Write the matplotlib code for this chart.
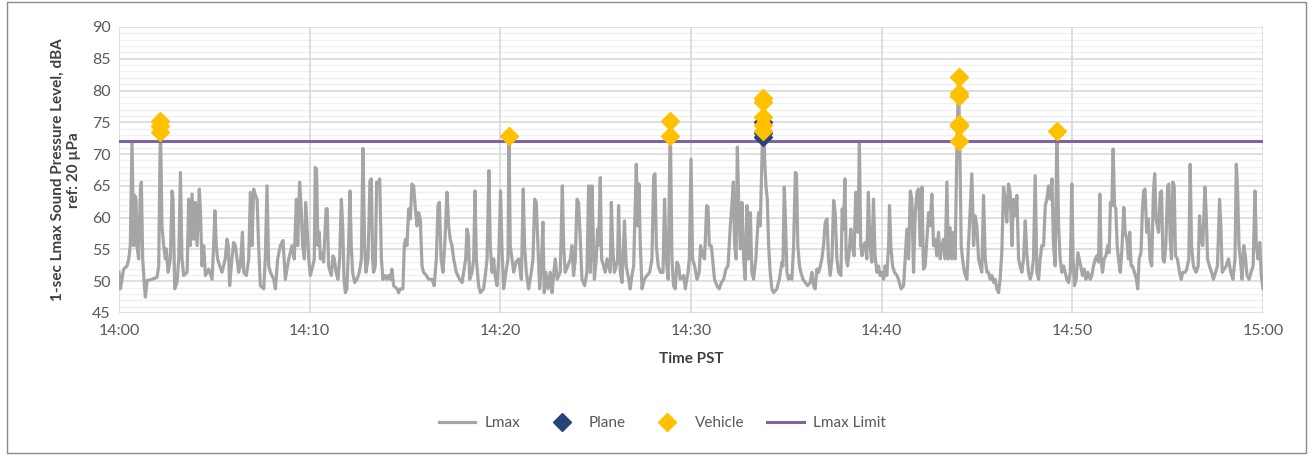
import matplotlib
matplotlib.use('Agg')
import matplotlib.pyplot as plt
from matplotlib.patches import Rectangle
from matplotlib.ticker import MultipleLocator

plt.rcParams['font.family'] = ['Lato', 'DejaVu Sans']

# minutes after 14:00 and 1-sec Lmax (dBA)
lmax_min = [
    0.00, 0.07, 0.24, 0.42, 0.51, 0.59, 0.68, 0.77, 0.82, 0.89, 0.94, 1.03, 1.12, 1.17, 1.24, 1.33, 1.38, 1.47, 1.73, 1.99,
    2.08, 2.17, 2.25, 2.34, 2.43, 2.48, 2.57, 2.69, 2.78, 2.83, 2.92, 3.04, 3.13, 3.22, 3.30, 3.39, 3.57, 3.65, 3.74, 3.83,
    3.92, 4.00, 4.09, 4.21, 4.27, 4.35, 4.44, 4.53, 4.70, 4.88,
    4.96, 5.03, 5.10, 5.17, 5.28, 5.40, 5.57, 5.66, 5.73, 5.80, 5.92, 6.01, 6.10, 6.19, 6.27, 6.36, 6.47, 6.54, 6.68, 6.80,
    6.89, 6.97, 7.06, 7.15, 7.24, 7.32, 7.41, 7.59, 7.67, 7.76, 7.85, 7.94, 8.11, 8.20, 8.32, 8.46, 8.60, 8.72, 8.90, 9.07,
    9.19, 9.30, 9.37, 9.47, 9.54, 9.63, 9.72, 9.79,
    9.95, 10.03, 10.16, 10.24, 10.29, 10.36, 10.43, 10.50, 10.56, 10.64, 10.73, 10.86, 10.92, 10.99, 11.13, 11.22, 11.29,
    11.38, 11.48, 11.57, 11.66, 11.73, 11.80, 11.87, 11.95, 12.04, 12.11, 12.18, 12.25, 12.36, 12.48, 12.60, 12.71, 12.79,
    12.88, 12.95, 13.06, 13.16, 13.23, 13.30, 13.35, 13.44, 13.51, 13.58, 13.67, 13.76, 13.84, 13.97, 14.05, 14.14, 14.23,
    14.31, 14.40, 14.58, 14.66,
    14.75, 14.89, 14.96, 15.03, 15.10, 15.19, 15.28, 15.36, 15.45, 15.54, 15.63, 15.71, 15.80, 15.89, 15.97, 16.12, 16.24,
    16.41, 16.53, 16.64, 16.73, 16.80, 16.89, 16.99, 17.08, 17.20, 17.29, 17.37, 17.46, 17.55, 17.69, 17.86, 17.99, 18.07,
    18.18, 18.25, 18.32, 18.39, 18.51, 18.60, 18.67, 18.74, 18.86, 18.95, 19.12, 19.21, 19.30, 19.40, 19.47, 19.56, 19.65,
    19.70, 19.82, 19.91, 20.01, 20.08, 20.17, 20.29, 20.40, 20.45, 20.52, 20.61, 20.70, 20.82, 20.96, 21.10, 21.20, 21.27,
    21.36, 21.48, 21.62, 21.71, 21.80, 21.88, 21.97, 22.06, 22.15, 22.23, 22.30, 22.39, 22.50, 22.62, 22.71, 22.79, 22.88,
    22.98, 23.14, 23.25, 23.32, 23.40, 23.54, 23.67, 23.75, 23.84, 23.93, 24.02, 24.10, 24.19, 24.28, 24.42, 24.54,
    24.63, 24.72, 24.80, 24.86, 24.93, 25.03, 25.10, 25.15, 25.24, 25.31, 25.41, 25.50, 25.59, 25.68, 25.76, 25.82, 25.89,
    25.98, 26.08, 26.15, 26.20, 26.29, 26.38, 26.46, 26.51, 26.60, 26.73, 26.81, 26.90, 26.99, 27.08, 27.13, 27.20, 27.27,
    27.34, 27.43, 27.55, 27.69, 27.83, 27.95, 28.04, 28.11, 28.18, 28.28, 28.39, 28.53, 28.61, 28.70, 28.80, 28.91, 29.00,
    29.08, 29.17, 29.26, 29.35, 29.43,
    29.61, 29.70, 29.84, 29.91, 30.00, 30.08, 30.19, 30.31, 30.43, 30.50, 30.61, 30.71, 30.82, 30.89, 30.96, 31.06, 31.13,
    31.23, 31.36, 31.48, 31.59, 31.71, 31.83, 31.94, 32.06, 32.15, 32.22, 32.29, 32.36, 32.43, 32.50, 32.58, 32.67, 32.76,
    32.84, 32.93, 33.02, 33.11, 33.19, 33.28, 33.40, 33.54, 33.63, 33.72, 33.79, 33.86, 33.93, 34.00, 34.07, 34.15, 34.24,
    34.33, 34.50, 34.63,
    34.77, 34.82, 34.89, 34.96, 35.03, 35.11, 35.20, 35.29, 35.38, 35.47, 35.53, 35.60, 35.69, 35.76, 35.87, 35.99, 36.11,
    36.25, 36.34, 36.43, 36.51, 36.60, 36.69, 36.78, 36.86, 36.95, 37.04, 37.13, 37.21, 37.30, 37.39, 37.48, 37.56, 37.65,
    37.74, 37.86, 37.93, 38.00, 38.07, 38.14, 38.21, 38.29, 38.38, 38.45, 38.55, 38.64, 38.69, 38.76, 38.83, 38.90, 38.97,
    39.04, 39.13, 39.22, 39.30, 39.39, 39.48, 39.57, 39.65,
    39.75, 39.83, 39.92, 40.01, 40.10, 40.18, 40.27, 40.36, 40.41, 40.48, 40.57, 40.67, 40.80, 40.88, 41.02, 41.15, 41.23,
    41.32, 41.41, 41.50, 41.58, 41.67, 41.76, 41.85, 41.93, 42.02, 42.11, 42.19, 42.28, 42.37, 42.46, 42.54, 42.63, 42.72,
    42.81, 42.89, 42.98, 43.07, 43.16, 43.24, 43.33, 43.42, 43.50, 43.59, 43.68, 43.77, 43.85, 43.94, 44.03, 44.10, 44.17,
    44.24, 44.34, 44.47, 44.55,
    44.73, 44.82, 44.90, 44.99, 45.08, 45.17, 45.25, 45.34, 45.43, 45.52, 45.60, 45.69, 45.78, 45.87, 45.95, 46.04, 46.13,
    46.21, 46.30, 46.39, 46.48, 46.56, 46.65, 46.74, 46.83, 46.91, 47.00, 47.09, 47.18, 47.26, 47.35, 47.44, 47.53, 47.61,
    47.70, 47.79, 47.88, 47.96, 48.05, 48.14, 48.23, 48.31, 48.40, 48.49, 48.58, 48.66, 48.75, 48.84, 48.93, 49.01, 49.10,
    49.19, 49.28, 49.36,
    49.45, 49.54, 49.62, 49.71, 49.80, 49.89, 49.97, 50.04, 50.11, 50.20, 50.29, 50.36, 50.44, 50.53, 50.62, 50.71, 50.81,
    50.94, 51.02, 51.11, 51.20, 51.28, 51.37, 51.44, 51.51, 51.58, 51.67, 51.76, 51.86, 51.93, 52.00, 52.07, 52.14, 52.21,
    52.28, 52.35, 52.42, 52.51, 52.59, 52.70, 52.77, 52.86, 52.94, 53.01, 53.08, 53.15, 53.26, 53.36, 53.43, 53.50, 53.60,
    53.67, 53.74, 53.81, 53.90, 53.99, 54.07, 54.16, 54.25, 54.32, 54.39,
    54.52, 54.61, 54.68, 54.75, 54.82, 54.90, 55.00, 55.06, 55.13, 55.20, 55.27, 55.34, 55.41, 55.51, 55.62, 55.71, 55.79,
    55.92, 56.00, 56.11, 56.18, 56.25, 56.35, 56.49, 56.60, 56.67, 56.74, 56.84, 56.95, 57.02, 57.09, 57.19, 57.30, 57.40,
    57.51, 57.61, 57.72, 57.79, 57.86, 57.96, 58.07, 58.19, 58.31, 58.42, 58.53, 58.60, 58.67, 58.74, 58.81, 58.90, 58.99,
    59.07, 59.16, 59.27, 59.37, 59.48, 59.58, 59.65, 59.74, 59.83, 59.91, 60.00,
]
lmax_db = [
    51.4, 48.8, 51.9, 52.4, 53.5, 55.6, 71.8, 55.6, 63.5, 62.9, 55.6, 53.5, 64.5, 65.6, 53.5, 49.3, 47.5, 50.1, 50.3, 50.6,
    52.4, 75.2, 58.7, 55.6, 53.5, 55.1, 51.4, 53.5, 64.2, 62.9, 48.8, 49.8, 53.5, 67.1, 53.5, 50.9, 51.4, 62.9, 55.6, 63.7,
    56.6, 62.4, 55.6, 64.5, 60.8, 52.4, 55.6, 50.9, 51.9, 50.3,
    55.6, 61.1, 55.6, 53.5, 52.4, 51.4, 53.5, 56.6, 55.6, 49.3, 53.5, 56.1, 55.6, 53.5, 51.4, 52.4, 57.7, 51.4, 50.9, 53.5,
    64.0, 55.6, 64.5, 63.5, 62.9, 55.6, 49.3, 48.8, 53.5, 65.0, 52.4, 51.4, 50.3, 48.8, 53.5, 55.6, 56.4, 50.3, 53.5, 55.6,
    53.5, 62.9, 55.6, 65.6, 62.4, 55.6, 53.5, 62.4,
    53.5, 50.9, 52.4, 53.5, 67.9, 67.6, 55.6, 57.7, 53.5, 54.5, 53.0, 61.4, 61.4, 52.4, 50.9, 54.0, 53.5,
    51.4, 50.3, 53.5, 62.9, 58.7, 50.3, 48.2, 48.8, 55.6, 64.2, 55.6, 51.4, 49.8, 50.3, 51.4, 53.5, 70.9,
    55.6, 51.4, 53.5, 65.8, 66.1, 53.5, 51.4, 52.4, 65.6, 65.3, 66.1, 53.5, 50.3, 50.9, 50.3, 50.9, 50.3,
    51.9, 49.3, 48.8, 48.2,
    48.8, 48.8, 55.6, 56.6, 55.6, 61.4, 59.8, 65.3, 65.0, 61.4, 58.7, 60.8, 59.8, 52.4, 51.4, 50.9, 50.3,
    50.3, 49.3, 53.5, 61.9, 62.4, 53.5, 51.4, 55.6, 64.0, 58.7, 56.6, 55.6, 53.5, 51.4, 50.3, 49.8, 51.4,
    53.5, 58.2, 57.2, 50.3, 51.4, 53.5, 64.2, 53.5, 49.3, 48.2, 48.8, 50.9, 53.5, 67.4, 55.6, 51.4, 53.5,
    51.4, 49.3, 53.5, 64.2, 55.6, 48.8, 51.4, 53.5, 72.8, 55.6, 53.5, 51.4, 53.0, 53.5, 50.3, 64.5, 55.6,
    51.4, 48.8, 51.4, 53.5, 62.9, 62.4, 55.6, 48.8, 52.4, 59.3, 48.2, 51.4, 48.8, 51.4, 48.2, 50.9, 53.5,
    50.3, 51.4, 65.0, 55.6, 51.4, 52.4, 53.5, 55.6, 50.9, 53.5, 62.9, 62.4, 56.6, 50.3, 49.3, 51.4,
    65.0, 51.4, 65.0, 58.7, 50.3, 53.5, 58.2, 55.6, 66.3, 53.5, 52.4, 51.4, 53.5, 52.4, 51.4, 62.4, 55.6,
    51.4, 52.4, 53.5, 61.9, 51.4, 49.8, 55.6, 59.5, 52.4, 50.3, 48.8, 50.9, 52.4, 62.9, 68.4, 58.7, 65.3,
    55.6, 48.8, 50.3, 50.9, 51.4, 53.5, 66.6, 66.9, 55.6, 52.4, 51.4, 51.4, 62.9, 53.5, 50.3, 75.2, 53.5,
    49.3, 48.8, 53.0, 52.4, 50.3,
    50.9, 48.8, 51.4, 53.5, 69.2, 53.5, 52.4, 50.3, 51.4, 55.6, 54.0, 53.5, 61.9, 61.7, 55.6, 55.6, 53.5,
    50.3, 49.3, 48.8, 49.8, 50.3, 51.9, 52.4, 58.7, 62.4, 65.6, 55.6, 53.5, 71.1, 62.4, 55.1, 62.4, 53.5,
    50.3, 61.9, 53.5, 60.8, 51.4, 50.3, 53.5, 60.8, 58.7, 69.2, 78.9, 69.2, 65.0, 62.9, 55.6, 51.4, 48.8,
    48.2, 48.8, 50.3,
    53.0, 52.4, 64.8, 58.7, 51.4, 50.3, 50.9, 50.3, 55.6, 67.1, 66.9, 55.6, 52.4, 51.4, 50.3, 49.8, 49.3,
    49.8, 51.4, 49.3, 48.8, 51.9, 51.4, 52.4, 53.5, 55.6, 59.3, 59.8, 53.5, 50.9, 53.5, 62.7, 60.8, 53.5,
    51.4, 50.9, 61.4, 58.2, 66.1, 53.5, 52.4, 54.5, 58.2, 55.6, 54.0, 64.0, 62.9, 57.7, 71.8, 55.6, 54.0,
    55.6, 56.1, 53.5, 64.0, 55.6, 53.0, 62.9, 54.0,
    51.4, 52.4, 50.9, 51.4, 50.3, 52.4, 50.9, 55.6, 61.9, 55.6, 52.4, 51.4, 50.9, 50.3, 48.8, 49.3, 53.5,
    58.2, 53.5, 64.2, 62.9, 51.4, 60.8, 64.0, 64.5, 55.6, 64.8, 51.9, 52.4, 56.6, 60.8, 58.7, 63.7, 55.6,
    56.6, 54.0, 57.7, 53.5, 55.6, 56.6, 53.5, 65.6, 53.5, 58.4, 53.5, 57.7, 53.5, 70.3, 82.1, 70.3, 55.6,
    53.5, 51.4, 50.3, 55.6,
    66.9, 55.6, 60.3, 58.7, 53.5, 52.4, 51.4, 63.5, 53.5, 51.4, 51.4, 50.3, 50.9, 49.8, 50.3, 48.8, 48.2,
    50.3, 54.5, 64.8, 62.9, 59.3, 65.3, 64.0, 55.6, 62.9, 60.3, 63.5, 53.5, 52.4, 51.4, 53.5, 59.5, 54.5,
    51.4, 50.3, 51.4, 53.5, 66.6, 51.4, 50.3, 53.5, 55.6, 55.6, 61.9, 62.9, 65.0, 62.9, 66.1, 55.6, 52.4,
    73.7, 58.7, 53.5,
    51.4, 52.4, 51.4, 50.3, 49.8, 51.4, 65.3, 53.5, 49.3, 50.3, 54.5, 53.5, 52.4, 50.9, 51.9, 50.3, 51.4,
    50.3, 50.9, 52.4, 53.5, 54.0, 53.0, 63.7, 53.5, 51.4, 53.5, 54.0, 55.6, 54.5, 62.4, 61.9, 70.8, 61.9,
    61.4, 55.6, 53.5, 51.4, 54.5, 61.6, 57.7, 56.6, 53.5, 57.7, 52.4, 52.4, 51.4, 50.3, 48.8, 53.5, 54.5,
    60.8, 64.2, 64.5, 57.7, 59.8, 53.5, 52.4, 64.0, 66.9, 59.8,
    57.7, 64.0, 64.2, 53.5, 53.0, 55.6, 65.0, 65.3, 56.6, 53.5, 65.6, 65.0, 54.0, 53.5, 51.4, 50.3, 51.4,
    51.4, 51.9, 53.5, 68.4, 55.6, 52.4, 51.4, 52.4, 60.3, 56.6, 55.6, 64.8, 60.8, 53.5, 52.4, 51.4, 50.3,
    51.4, 52.4, 62.9, 58.7, 51.4, 51.9, 52.4, 53.5, 51.4, 50.3, 53.5, 68.4, 64.0, 55.6, 53.5, 50.3, 55.6,
    54.0, 50.9, 50.3, 51.4, 52.4, 64.2, 55.6, 53.5, 56.1, 50.9, 48.8,
]
assert len(lmax_min) == len(lmax_db), (len(lmax_min), len(lmax_db))

plane_min = [33.79, 33.79, 33.79]
plane_db = [75.0, 73.3, 72.7]

vehicle_min = [2.17, 2.17, 2.17, 20.45, 28.91, 28.91, 33.79, 33.79, 33.79, 33.79, 33.79,
               44.03, 44.03, 44.03, 44.03, 44.03, 44.03, 49.19]
vehicle_db = [75.2, 74.4, 73.5, 72.8, 75.2, 72.9, 78.9, 78.2, 75.8, 74.6, 73.7,
              82.1, 79.6, 79.2, 74.8, 74.4, 72.0, 73.7]

lmax_limit = 72
x_ticks = [0, 10, 20, 30, 40, 50, 60]
x_tick_labels = ['14:00', '14:10', '14:20', '14:30', '14:40', '14:50', '15:00']

txt = '#595959'

fig = plt.figure(figsize=(13.14, 4.55), dpi=100)
ax = fig.add_axes([0.0906, 0.3121, 0.8706, 0.6286])

ax.plot(lmax_min, lmax_db, color='#a5a5a5', lw=2.3, label='Lmax', zorder=3)
ax.plot(plane_min, plane_db, ls='none', marker='D', ms=9, color='#264478',
        label='Plane', zorder=4)
ax.plot(vehicle_min, vehicle_db, ls='none', marker='D', ms=9, color='#ffc000',
        label='Vehicle', zorder=5)
ax.plot([0, 60], [lmax_limit, lmax_limit], color='#8064a2', lw=2.2,
        label='Lmax Limit', zorder=3.5)

ax.set_xlim(0, 60)
ax.set_ylim(45, 90)
ax.set_xticks(x_ticks)
ax.set_xticklabels(x_tick_labels)
ax.yaxis.set_major_locator(MultipleLocator(5))
ax.yaxis.set_minor_locator(MultipleLocator(1))
ax.grid(which='major', axis='y', color='#d9d9d9', lw=1.2)
ax.grid(which='minor', axis='y', color='#f0f0f0', lw=1.0)
# vertical gridlines drawn above the minor horizontal ones
for xt in x_ticks:
    ax.axvline(xt, color='#d9d9d9', lw=1.2, zorder=1)
ax.set_axisbelow(True)
for s in ax.spines.values():
    s.set_visible(False)
ax.tick_params(which='both', length=0, labelsize=11.5, labelcolor=txt)
ax.tick_params(axis='x', pad=8)
ax.tick_params(axis='y', pad=6)

ax.set_xlabel('Time PST', fontsize=11, fontweight='bold', color='#404040', labelpad=10)
ax.set_ylabel('1-sec Lmax Sound Pressure Level, dBA\nref: 20 µPa', fontsize=11,
              fontweight='bold', color='#404040', labelpad=8, linespacing=1.2)

fig.legend(loc='center', bbox_to_anchor=(0.504, 0.07), ncol=4, frameon=False,
           fontsize=11, labelcolor=txt, handlelength=2.4, columnspacing=1.5,
           handletextpad=0.6)

fig.patches.append(Rectangle((0.005, 0.005), 0.989, 0.99, transform=fig.transFigure,
                             fill=False, edgecolor='#8c8c8c', lw=1.0))

fig.savefig('out.png', dpi=100)
